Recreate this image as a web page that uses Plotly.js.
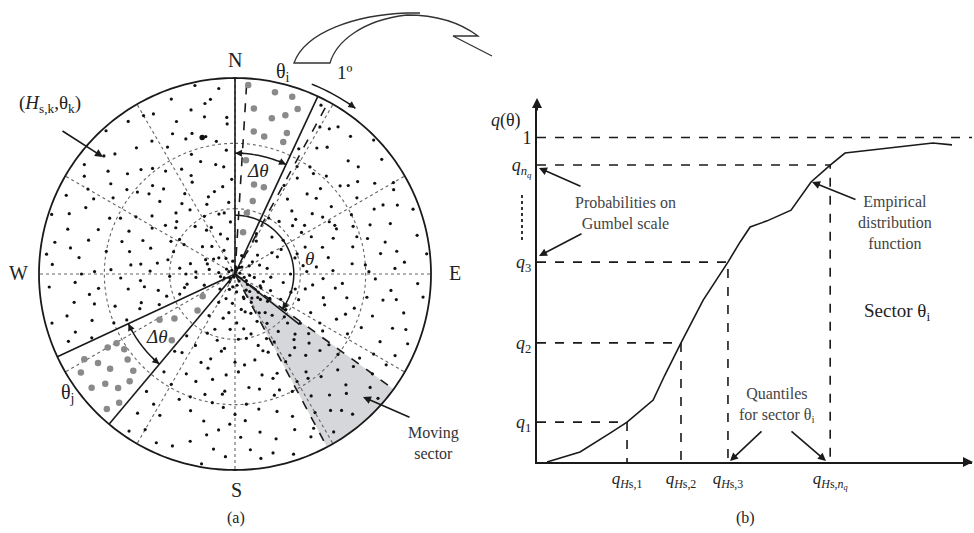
<!DOCTYPE html>
<html><head><meta charset="utf-8">
<script src="https://cdn.plot.ly/plotly-3.0.1.min.js"></script>
<style>html,body{margin:0;padding:0;background:#fff}#chart{width:974px;height:533px}</style>
</head><body><div id="chart"></div>
<script>
// ---------- Panel (a): directional scatter of (Hs, theta) ----------
const dotHs = [
5.2,4.6,3.9,5.5,4.9,3.3,2.8,4.2,5.7,3.6,2.5,5.1,4.4,2.1,1.6,3.0,4.8,5.9,3.8,1.2,2.4,5.3,4.1,3.4,
5.5,4.7,3.9,5.0,4.2,3.2,2.6,5.7,4.5,3.6,2.9,1.9,5.2,2.2,1.4,3.3,4.9,5.8,2.8,4.0,1.0,3.7,
5.6,4.8,4.1,3.3,2.4,5.3,4.4,3.6,2.8,5.7,4.9,3.9,3.0,2.1,1.5,5.4,4.6,1.2,3.5,4.3,2.6,5.0,1.8,3.2,
5.4,4.8,4.1,5.1,3.5,2.7,4.4,3.0,2.0,1.5,5.6,3.8,2.4,1.0,4.6,3.3,1.8,5.0,
5.5,4.7,3.9,5.2,4.2,3.3,2.5,5.7,4.5,3.6,2.8,1.9,5.0,1.3,2.2,4.0,3.0,5.8,
5.6,4.8,4.0,3.1,2.3,5.3,4.4,3.5,2.7,5.7,4.9,3.9,2.9,2.0,1.4,5.2,4.5,1.0,3.3,5.9,4.2,2.4,1.7,3.7,
5.5,4.6,3.8,5.0,4.2,3.1,2.4,5.7,3.5,2.8,1.8,1.2,4.8,2.0,
5.6,4.8,4.0,3.2,2.4,5.3,4.4,3.5,2.7,5.7,4.9,3.9,2.9,2.0,1.4,5.1,1.0,3.3,4.3,5.9,
5.5,4.7,3.9,3.1,2.3,5.2,4.3,3.4,2.6,5.7,4.8,3.8,2.9,1.9,1.3,5.0,4.1,2.0,5.9,3.6,
5.5,4.7,3.9,3.1,2.3,5.2,4.3,3.4,2.6,5.7,4.8,3.8,2.9,1.9,1.3,5.0,4.1,2.0,5.9,3.6,
5.8,4.3,3.1,2.0,5.0,3.7,2.6,1.8,4.7,5.5,1.4,3.2,0.9,
5.4,4.4,3.4,2.3,5.0,4.0,3.0,2.1,1.6,5.9,3.9,4.7,0.8,
5.8,5.1,4.2,3.4,2.7,2.2,1.6,4.9,3.8,5.5,1.1,0.9,2.9,
5.3,4.3,3.9,2.9,2.2,1.3,0.9,4.9,3.6,2.6,1.7,5.8,
5.3,4.4,3.5,2.7,1.7,5.6,4.9,3.8,2.0,1.1,0.8,5.1,3.2,
5.4,4.6,3.7,2.9,2.1,1.5,5.6,4.7,3.4,1.2,0.8,4.1,5.8,2.5,
5.3,4.4,3.3,2.2,1.5,5.8,4.0,2.9,1.0,4.9,
5.4,4.6,3.6,2.6,1.7,5.0,4.2,3.0,2.2,1.2,0.9,5.8,
5.4,4.5,3.7,2.7,1.6,5.7,4.4,3.2,2.4,1.1,0.8,4.9,
5.4,4.5,3.6,2.5,1.6,5.7,4.4,3.3,2.2,1.1,0.8,4.9,
0.2,0.3,0.15,0.4,0.25,0.35,0.5,0.2,0.45,0.3,0.55,0.1,0.6,0.7,0.5,0.8,0.4,0.65,0.3,0.75,
0.5,0.9,1.1,1.3,0.6,0.2,0.35,0.45,0.55,0.25,0.7,0.4,0.15,0.6,0.85,1.0,0.3,0.5,0.65,0.9,
1.9,2.2,2.9,1.6,2.3,3.1,0.9,1.4,2.6,1.2,3.4,2.0,2.7,1.5,3.6,2.4,3.0,1.8,4.0,4.6,
1.3,2.0,2.6,3.4,1.7,2.5,3.1,1.9,4.1,4.6,
1.5,2.1,2.9,3.8,1.8,2.6,3.5,4.2,1.6,2.4,3.3,4.4,1.9,2.7,5.3,
1.6,2.5,3.6,4.5,5.2,3.0,
4.0,3.5,2.3,5.6,5.0,4.4,
5.5,4.0,5.2,3.1,4.7,5.7,3.7,2.5,
5.4,4.3,5.0,3.8,5.5,4.0,3.0,
5.6,4.7,5.2,5.6,4.6
];
const dotDir = [
30,33,38,40,45,42,35,50,52,55,48,57,58,40,45,52,36,46,30,33,58,33,43,47,
62,65,68,72,75,70,64,78,82,85,80,75,86,88,68,61,88,70,73,63,80,77,
93,96,100,95,98,103,107,110,105,112,115,118,120,112,100,121,124,115,102,92,117,99,108,123,
130,135,140,145,132,138,148,146,131,142,140,150,150,136,128,139,147,137,
155,158,162,166,170,157,160,172,176,168,174,165,178,158,154,154,178,162,
183,186,190,185,188,195,198,200,196,205,208,210,214,205,195,215,217,210,192,190,204,218,185,216,
248,252,255,260,264,250,258,266,268,262,250,265,246,268,
273,276,280,275,278,285,288,292,287,295,298,296,299,290,283,279,296,282,271,288,
303,306,310,305,308,315,318,320,316,325,328,326,328,320,310,309,322,302,318,313,
333,336,340,335,338,345,348,350,346,355,357,356,358,350,340,339,352,332,348,343,
27,27,29,31,49,45,42,55,53,35,28,57,50,
67,70,66,69,82,86,88,83,62,84,73,78,70,
97,109,113,114,93,102,119,120,106,117,95,105,109,
142,133,145,129,143,130,145,150,127,135,138,131,
153,163,173,167,171,168,171,159,177,170,160,159,165,
187,192,186,201,195,212,200,212,206,189,200,185,214,209,
256,258,262,252,258,255,248,266,250,267,
290,283,286,272,276,294,294,290,297,273,290,276,
312,313,317,323,327,306,302,314,312,320,305,322,
352,343,333,341,355,340,332,354,355,348,335,349,
10,45,80,120,150,170,200,230,260,300,330,200,100,140,60,280,350,225,110,160,
130,128,135,125,145,290,250,95,175,35,315,190,320,20,115,150,215,275,55,185,
125,133,141,155,162,150,118,148,157,165,160,170,180,178,185,190,196,200,175,182,
60,72,55,64,90,85,98,104,89,100,
270,282,276,272,300,305,300,308,333,325,336,340,345,352,350,
255,248,247,262,250,253,
35,33,50,60,65,52,
108,128,126,133,142,148,144,127,
175,180,190,194,210,200,218,
280,270,300,330,357
];
// a few larger marks
const bigDotHs = [4.3];
const bigDotDir = [346.5];
// highlighted observations in sector theta_i and theta_j
const sectorIHs  = [5.7,5.7,5.1,5.4,4.9,5.1,4.4,4.3,4.6,4.3,2.8,2.8,2.3,1.3,5.8,1.9,3.5];
const sectorIDir = [12.4,17.9,6.5,20.8,13.3,17.6,7.5,12,20.2,20.1,12,18.4,13.7,11,4,11,5.5];
const sectorJHs  = [1.2,1.6,2.3,2.7,2.8,4.2,4.5,4.1,5.3,5.0,4.2,5.6,4.8,4.3,5.6,5.2,5.0,4.6,5.7,5.3];
const sectorJDir = [235.5,225.8,233.7,238.8,223.7,239.7,240,235.8,240.5,237,231.5,237.4,232.8,226.4,231.6,229.8,225.7,224.5,223.5,222];
const hsMax = 6;
const ringHs = [2, 4];
const spokeDirs = [0,30,60,90,120,150,180,210,240,270,300,330];
const sectorI = [0, 25];          // theta_i sector bounds
const sectorIShift = [3.5, 28.5]; // sector moved by 1 degree step
const sectorJ = [220, 245];       // theta_j sector bounds
const movingSector = [126, 152];  // shaded moving sector
const thetaDir = 128;             // direction of angle theta
const thetaArcHs = 1.8, dThetaArcHsI = 3.7, dThetaArcHsJ = 3.6, oneDegArcHs = 6.27, thetaRayHs = 2.5;
const oneDegArc = [22, 36];

// ---------- Panel (b): empirical distribution function ----------
const ecdfHs = [0.23,0.99,1.68,2.07,2.67,2.94,3.31,3.82,4.39,4.67,4.90,5.29,5.84,6.30,6.74,7.08,9.10,9.54];
const ecdfQ  = [0,0.031,0.089,0.123,0.191,0.268,0.367,0.499,0.616,0.678,0.724,0.743,0.776,0.863,0.915,0.952,0.983,0.977];
const quantHs = [2.07, 3.31, 4.39, 6.74];
const quantQ  = [0.123, 0.367, 0.616, 0.915];
const qTickText  = ['<i>q</i><sub>1</sub>','<i>q</i><sub>2</sub>','<i>q</i><sub>3</sub>','<i>q</i><sub><i>n<sub>q</sub></i></sub>','1'];
const hsTickText = ['<i>q</i><sub><i>H</i>s,1</sub>','<i>q</i><sub><i>H</i>s,2</sub>','<i>q</i><sub><i>H</i>s,3</sub>','<i>q</i><sub><i>H</i>s,<i>n<sub>q</sub></i></sub>'];

// ---------- build ----------
const W = 974, H = 533;
const FONT = 'Liberation Serif, Times New Roman, serif';
const px = x => x / W, py = y => 1 - y / H;
const BLACK = '#1a1a1a';
const traces = [];

function ray(dir, r0, r1, dash, width, color) {
  return {type:'scatterpolar', mode:'lines', r:[r0, r1], theta:[dir, dir],
    line:{color:color||BLACK, width:width||1.5, dash:dash||'solid'}, hoverinfo:'skip', showlegend:false};
}
function arc(r, a0, a1, dash, width, color) {
  const th = [], rr = [];
  const n = Math.max(2, Math.ceil(Math.abs(a1 - a0)));
  for (let i = 0; i <= n; i++) { th.push(a0 + (a1 - a0) * i / n); rr.push(r); }
  return {type:'scatterpolar', mode:'lines', r:rr, theta:th,
    line:{color:color||BLACK, width:width||1.5, dash:dash||'solid'}, hoverinfo:'skip', showlegend:false};
}

// moving sector shading
traces.push({type:'barpolar', r:[hsMax], theta:[(movingSector[0]+movingSector[1])/2],
  width:[movingSector[1]-movingSector[0]], marker:{color:'#d5d7da', line:{width:0}}, hoverinfo:'skip', showlegend:false});
// dotted grid
ringHs.forEach(r => traces.push(arc(r, 0, 360, 'dot', 1.1, '#666')));
spokeDirs.forEach(d => traces.push(ray(d, 0, hsMax, 'dot', 1.1, '#666')));
// outer circle
traces.push(arc(hsMax, 0, 360, 'solid', 1.8, BLACK));
// sector lines
sectorI.forEach(d => traces.push(ray(d, 0, hsMax, 'solid', 1.6)));
sectorIShift.forEach(d => traces.push(ray(d, 0, hsMax, 'dash', 1.6)));
sectorJ.forEach(d => traces.push(ray(d, 0, hsMax, 'solid', 1.6)));
movingSector.forEach(d => traces.push(ray(d, 0, hsMax, 'dash', 1.6)));
traces.push(ray(thetaDir, 0, thetaRayHs, 'solid', 1.6));
// arcs
traces.push(arc(thetaArcHs, 0, thetaDir - 1, 'solid', 1.5));
traces.push(arc(dThetaArcHsI, sectorI[0], sectorI[1], 'solid', 1.5));
traces.push(arc(dThetaArcHsJ, sectorJ[0], sectorJ[1], 'solid', 1.5));
traces.push(arc(oneDegArcHs, oneDegArc[0], oneDegArc[1], 'solid', 1.5));
// observations
traces.push({type:'scatterpolar', mode:'markers', r:dotHs, theta:dotDir,
  marker:{color:'#111', size:3.2}, hoverinfo:'skip', showlegend:false});
traces.push({type:'scatterpolar', mode:'markers', r:bigDotHs, theta:bigDotDir,
  marker:{color:'#111', size:5.5}, hoverinfo:'skip', showlegend:false});
traces.push({type:'scatterpolar', mode:'markers', r:sectorIHs, theta:sectorIDir,
  marker:{color:'#8a8a8a', size:6.5}, hoverinfo:'skip', showlegend:false});
traces.push({type:'scatterpolar', mode:'markers', r:sectorJHs, theta:sectorJDir,
  marker:{color:'#8a8a8a', size:6.5}, hoverinfo:'skip', showlegend:false});

// panel (b)
traces.push({type:'scatter', mode:'lines', x:[0, 10], y:[1, 1], xaxis:'x', yaxis:'y',
  line:{color:BLACK, width:1.6, dash:'dash'}, hoverinfo:'skip', showlegend:false, cliponaxis:false});
quantHs.forEach((h, i) => traces.push({type:'scatter', mode:'lines', x:[0, h, h], y:[quantQ[i], quantQ[i], 0],
  line:{color:BLACK, width:1.6, dash:'dash'}, hoverinfo:'skip', showlegend:false}));
traces.push({type:'scatter', mode:'lines', x:ecdfHs, y:ecdfQ,
  line:{color:BLACK, width:1.6}, hoverinfo:'skip', showlegend:false});

// geometry of polar panel (pixels)
const CX = 235, CY = 274, R = 196, rangeMax = 6.6;
const Rdom = R * rangeMax / hsMax;

const ann = [];
function txt(x, y, t, size, opts) {
  ann.push(Object.assign({x:px(x), y:py(y), xref:'paper', yref:'paper', text:t, showarrow:false,
    font:{family:FONT, size:size, color:'#222'}, xanchor:'center', yanchor:'middle'}, opts||{}));
}
function arrow(hx, hy, tx, ty, w) {
  ann.push({x:px(hx), y:py(hy), xref:'paper', yref:'paper', text:'', showarrow:true,
    ax:tx - hx, ay:ty - hy, arrowhead:2, arrowsize:1, arrowwidth:w||1.6, arrowcolor:BLACK, standoff:0, startstandoff:0});
}
function polarPx(r, dir) {
  const rp = r * R / hsMax, a = dir * Math.PI / 180;
  return [CX + rp * Math.sin(a), CY - rp * Math.cos(a)];
}
function arcHead(r, dir, sense) {
  const [hx, hy] = polarPx(r, dir), a = dir * Math.PI / 180;
  const dx = Math.cos(a) * sense, dy = Math.sin(a) * sense;
  arrow(hx, hy, hx - dx * 10, hy - dy * 10, 1.4);
}
arcHead(thetaArcHs, thetaDir - 1, 1);
arcHead(dThetaArcHsI, sectorI[0], -1);
arcHead(dThetaArcHsI, sectorI[1], 1);
arcHead(dThetaArcHsJ, sectorJ[1], 1);
arcHead(dThetaArcHsJ, sectorJ[0], -1);
arcHead(oneDegArcHs, oneDegArc[1], 1);

// panel (a) labels
txt(235, 60, 'N', 20);
txt(18, 273, 'W', 20);
txt(455, 273, 'E', 20);
txt(236, 490, 'S', 20);
txt(283, 72, 'θ<sub>i</sub>', 20);
txt(345, 73, '1º', 19);
txt(50, 104, '(<i>H</i><sub>s,k</sub>,θ<sub>k</sub>)', 19);
txt(257, 170, '<i>Δθ</i>', 19);
txt(309, 258, '<i>θ</i>', 19);
txt(156, 336, '<i>Δθ</i>', 19);
txt(67, 393, 'θ<sub>j</sub>', 20);
txt(433, 443, 'Moving<br>sector', 16, {font:{family:FONT, size:16, color:'#333'}});
txt(236, 518, '(a)', 16);
arrow(103, 157, 61, 130);
arrow(363, 397, 411, 418);

// panel (b) labels
txt(506, 120, '<i>q</i>(θ)', 18);
txt(625, 213, 'Probabilities on<br>Gumbel scale', 16, {font:{family:FONT, size:16, color:'#444'}});
txt(895, 222, 'Empirical<br>distribution<br>function', 16, {font:{family:FONT, size:16, color:'#444'}});
txt(897, 312, 'Sector θ<sub>i</sub>', 19);
txt(777, 405, 'Quantiles<br>for sector θ<sub>i</sub>', 16, {font:{family:FONT, size:16, color:'#444'}});
txt(745, 518, '(b)', 16);
arrow(539, 168, 582, 187);
arrow(539, 256, 583, 233);
arrow(812, 182, 857, 200);
arrow(730, 461, 763, 430);
arrow(826, 461, 790, 430);
// axis arrowheads
arrow(537, 98, 537, 112, 2);
arrow(974, 462, 962, 462, 2);

// curved block arrow at top (cropped at the top edge in the original)
function pathPx(cmds) {
  return cmds.map(c => typeof c === 'string' ? c : (px(c[0]).toFixed(5) + ',' + py(c[1]).toFixed(5))).join(' ');
}
const blockArrow = pathPx(['M',[420,13],'L',[407,13],'C',[355,15],[305,32],[294,63],'L',[330,63],
  'C',[336,42],[362,20],[407,15],'C',[440,15],[462,24],[478,36],'L',[453,36],'L',[492,56]]);

const layout = {
  width: W, height: H, margin:{l:0, r:0, t:0, b:0}, paper_bgcolor:'#fff', plot_bgcolor:'rgba(0,0,0,0)',
  showlegend:false,
  polar:{
    domain:{x:[px(CX - Rdom), px(CX + Rdom)], y:[py(CY + Rdom), py(CY - Rdom)]},
    bgcolor:'rgba(0,0,0,0)',
    radialaxis:{range:[0, rangeMax], visible:false, showgrid:false, showline:false, showticklabels:false, ticks:''},
    angularaxis:{direction:'clockwise', rotation:90, visible:false, showgrid:false, showline:false, showticklabels:false, ticks:''},
    barmode:'overlay', bargap:0
  },
  xaxis:{domain:[px(537), px(972)], range:[0, 10], anchor:'y', showline:true, linecolor:BLACK, linewidth:2,
    showgrid:false, zeroline:false, ticks:'', tickvals:quantHs, ticktext:hsTickText,
    tickfont:{family:FONT, size:17, color:'#222'}, fixedrange:true},
  yaxis:{domain:[py(462), py(105)], range:[0, 1.1], anchor:'x', showline:true, linecolor:BLACK, linewidth:2,
    showgrid:false, zeroline:false, ticks:'', tickvals:quantQ.concat([1]), ticktext:qTickText,
    tickfont:{family:FONT, size:18, color:'#222'}, fixedrange:true},
  annotations: ann,
  shapes:[
    {type:'path', xref:'paper', yref:'paper', path:blockArrow, line:{color:'#333', width:1.3}, fillcolor:'rgba(0,0,0,0)'},
    {type:'line', xref:'paper', yref:'paper', x0:px(522), x1:px(522), y0:py(195), y1:py(240), line:{color:'#333', width:2, dash:'dot'}}
  ]
};
Plotly.newPlot('chart', traces, layout, {staticPlot:true, displayModeBar:false});
</script></body></html>
